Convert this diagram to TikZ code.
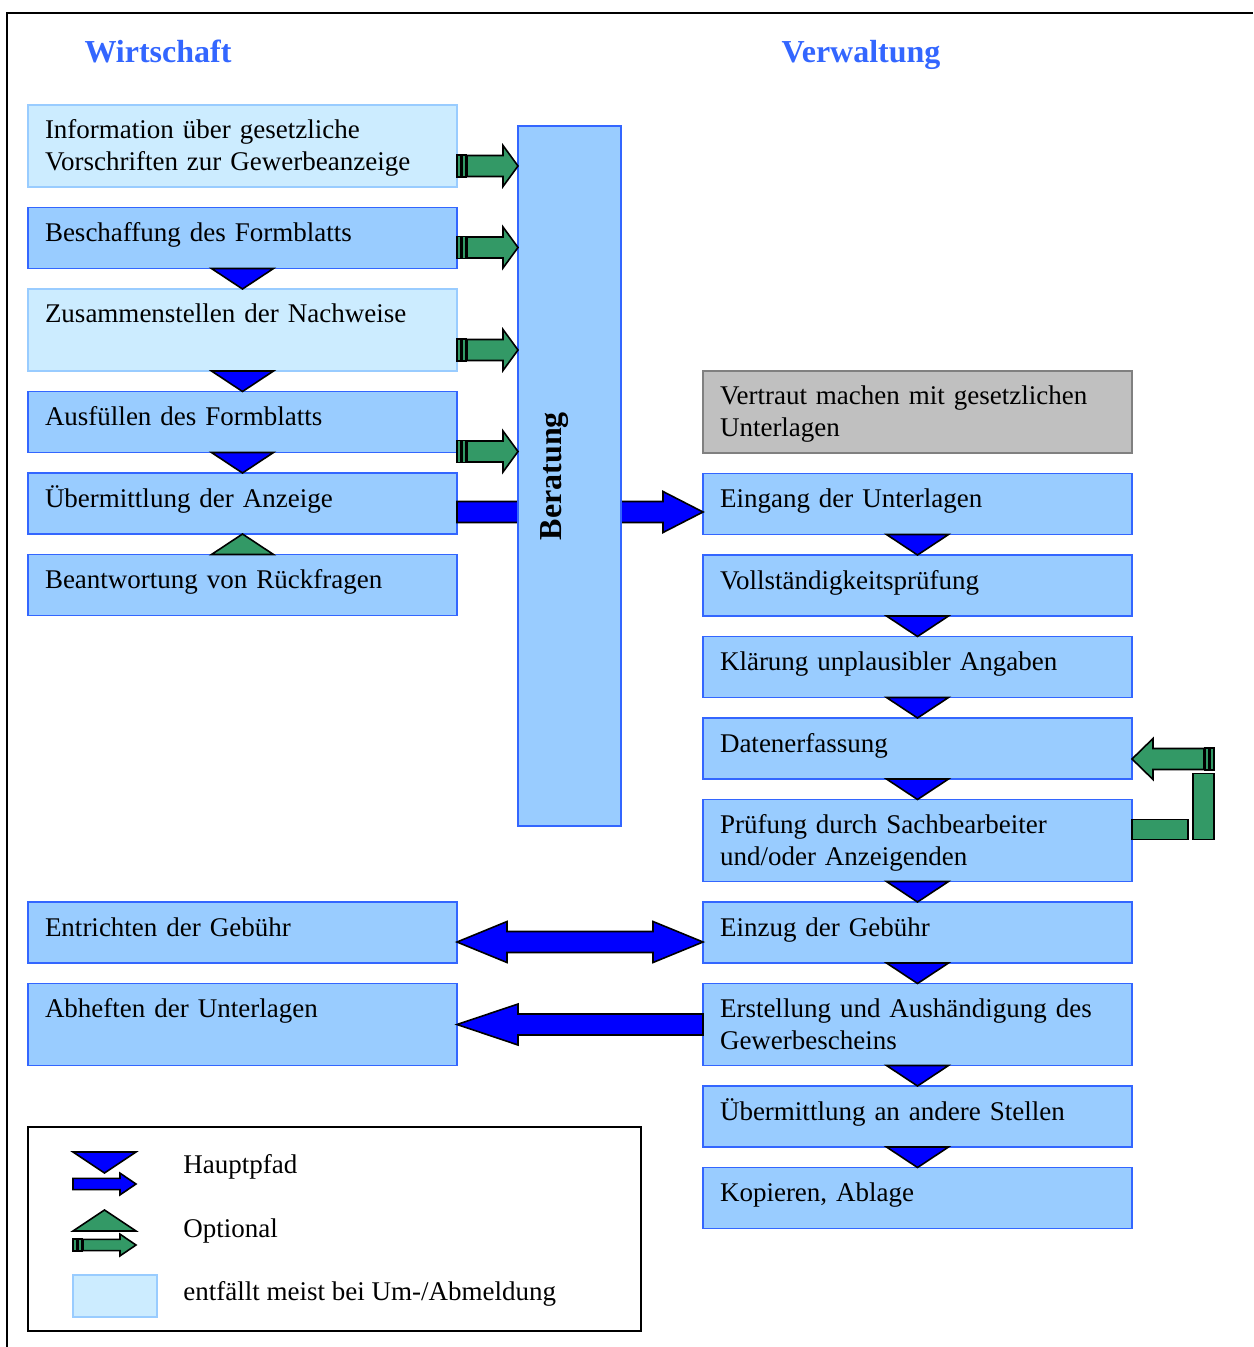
\documentclass[tikz,border=0pt]{standalone}
\usepackage{fontspec}
\setmainfont{Liberation Serif}
\usepackage{tikz}
\usetikzlibrary{positioning,calc}

\definecolor{boxfill}{HTML}{99CCFF}
\definecolor{boxline}{HTML}{3366FF}
\definecolor{palefill}{HTML}{CCECFF}
\definecolor{paleline}{HTML}{99CCFF}
\definecolor{greyfill}{HTML}{C0C0C0}
\definecolor{greyline}{HTML}{808080}
\definecolor{pathblue}{HTML}{0000FF}
\definecolor{optgreen}{HTML}{339966}
\definecolor{headblue}{HTML}{3366FF}

\newcommand{\bodyfont}{\fontsize{13.5}{16}\selectfont}

% green striped arrow: [scope opts]{start}{length}{head length}
\newcommand{\optarrow}[4][]{%
  \begin{scope}[shift={#2},#1]
    \draw[optshape] (0,-11) rectangle (4,11);
    \draw[optshape] (5,-11) rectangle (9,11);
    \draw[optshape] (10,-10.5) -- (#3-#4,-10.5) -- (#3-#4,-20.5) -- (#3,0)
      -- (#3-#4,20.5) -- (#3-#4,10.5) -- (10,10.5) -- cycle;
  \end{scope}}

% blue block arrow: [scope opts]{start}{length}{head length}
\newcommand{\mainarrow}[4][]{%
  \begin{scope}[shift={#2},#1]
    \draw[mainshape] (0,-10.5) -- (#3-#4,-10.5) -- (#3-#4,-20.5) -- (#3,0)
      -- (#3-#4,20.5) -- (#3-#4,10.5) -- (0,10.5) -- cycle;
  \end{scope}}

% down triangle between two stacked boxes
\newcommand{\steptri}[2]{%
  \draw[mainshape] ($(#1.south)+(-31,0)$) -- ($(#1.south)+(31,0)$) -- (#2.north) -- cycle;}

\begin{document}
\begin{tikzpicture}[x=0.5pt,y=-0.5pt,
  font=\bodyfont,
  box/.style     ={draw=boxline,fill=boxfill,line width=0.75pt,align=left,
                   text width=197.5pt,inner xsep=8.5pt,inner ysep=0pt,outer sep=0pt,
                   text height=17pt,text depth=13.5pt},
  pale/.style    ={box,draw=paleline,fill=palefill},
  greybox/.style ={box,draw=greyline,fill=greyfill},
  tall/.style    ={text depth=24pt},
  mainshape/.style={draw=black,fill=pathblue,line width=0.8pt},
  optshape/.style ={draw=black,fill=optgreen,line width=0.8pt},
  headtxt/.style ={font=\fontsize{16}{19}\selectfont\bfseries,text=headblue},
  legtxt/.style  ={anchor=base west,inner sep=0pt}]

\useasboundingbox (0,0) rectangle (1253,1347);
\draw[line width=1.2pt] (7,1347) -- (7,13) -- (1253,13);

%---------------- headings ----------------
\node[headtxt,anchor=base] (hwirt) at (158,63) {Wirtschaft};
\node[headtxt,anchor=base] (hverw) at (861,63) {Verwaltung};

%---------------- Wirtschaft column ----------------
\node[pale,tall,anchor=north west] (b1) at (28,105) {Information über gesetzliche\\Vorschriften zur Gewerbeanzeige};
\node[box,below=10.25pt of b1] (b2) {Beschaffung des Formblatts};
\node[pale,tall,below=10.25pt of b2] (b3) {Zusammenstellen der Nachweise};
\node[box,below=10.25pt of b3] (b4) {Ausfüllen des Formblatts};
\node[box,below=10.25pt of b4] (b5) {Übermittlung der Anzeige};
\node[box,below=10.25pt of b5] (b6) {Beantwortung von Rückfragen};
\node[box,anchor=north west] (b7) at (28,902) {Entrichten der Gebühr};
\node[box,tall,below=10.25pt of b7] (b8) {Abheften der Unterlagen};

\steptri{b2}{b3} \steptri{b3}{b4} \steptri{b4}{b5}
\draw[optshape] ($(b6.north)+(-31,0)$) -- ($(b6.north)+(31,0)$) -- (b5.south) -- cycle;

%---------------- Verwaltung column ----------------
\node[greybox,tall,anchor=north west] (r0) at (703,371) {Vertraut machen mit gesetzlichen\\Unterlagen};
\node[box,below=10.25pt of r0] (r1) {Eingang der Unterlagen};
\node[box,below=10.25pt of r1] (r2) {Vollständigkeitsprüfung};
\node[box,below=10.25pt of r2] (r3) {Klärung unplausibler Angaben};
\node[box,below=10.25pt of r3] (r4) {Datenerfassung};
\node[box,tall,below=10.25pt of r4] (r5) {Prüfung durch Sachbearbeiter\\und/oder Anzeigenden};
\node[box,below=10.25pt of r5] (r6) {Einzug der Gebühr};
\node[box,tall,below=10.25pt of r6] (r7) {Erstellung und Aushändigung des\\Gewerbescheins};
\node[box,below=10.25pt of r7] (r8) {Übermittlung an andere Stellen};
\node[box,below=10.25pt of r8] (r9) {Kopieren, Ablage};

\foreach \a/\b in {r1/r2,r2/r3,r3/r4,r4/r5,r5/r6,r6/r7,r7/r8,r8/r9}
  {\steptri{\a}{\b}}

%---------------- Beratung ----------------
\mainarrow{($(b5.east)+(0,8.5)$)}{246}{40}
\node[draw=boxline,fill=boxfill,line width=0.75pt,minimum width=51.5pt,
  minimum height=350pt,inner sep=0pt,outer sep=0pt,anchor=north west] (ber) at (518,126) {};
\node[rotate=90,font=\fontsize{16}{19}\selectfont\bfseries] (bertxt)
  at ($(ber.center)+(-15,0)$) {Beratung};

\optarrow{($(b1.south east)+(0,-21)$)}{61}{15}
\optarrow{($(b2.south east)+(0,-21)$)}{61}{15}
\optarrow{($(b3.south east)+(0,-21)$)}{61}{15}
\optarrow{($(b4.south east)+(0,-1)$)}{61}{15}

%---------------- fee and filing ----------------
\coordinate (dl) at ($(b7.east)+(0,9.5)$);
\coordinate (dr) at (dl -| r6.west);
\draw[mainshape] (dl) -- ($(dl)+(50,-20.5)$) -- ($(dl)+(50,-10.5)$)
  -- ($(dr)+(-50,-10.5)$) -- ($(dr)+(-50,-20.5)$) -- (dr)
  -- ($(dr)+(-50,20.5)$) -- ($(dr)+(-50,10.5)$)
  -- ($(dl)+(50,10.5)$) -- ($(dl)+(50,20.5)$) -- cycle;
\mainarrow[xscale=-1]{(r7.west)}{246}{61}

%---------------- loop back to Datenerfassung ----------------
\draw[optshape] ($(r5.east)+(0,-21)$) rectangle ++(56,20);
\draw[optshape] ($(r5.east)+(61,-67)$) rectangle ++(21,66);
\optarrow[xscale=-1]{($(r4.east)+(82,10.5)$)}{82}{21}

%---------------- legend ----------------
\node[draw=black,line width=1pt,anchor=north west,minimum width=306.5pt,
  minimum height=102pt,inner sep=0pt,outer sep=0pt] (legend) at (28,1127) {};
\draw[mainshape] (73,1152) -- (136,1152) -- (104.5,1173) -- cycle;
\mainarrow[yscale=0.53]{(73,1184)}{63}{16}
\draw[optshape] (73,1231) -- (136,1231) -- (104.5,1210) -- cycle;
\optarrow[yscale=0.53]{(73,1245)}{63}{16}
\draw[draw=paleline,fill=palefill,line width=0.75pt] (73,1275) rectangle (157,1317);
\node[legtxt] (lhaupt) at (183,1173) {Hauptpfad};
\node[legtxt] (lopt) at (183,1237) {Optional};
\node[legtxt] (lpale) at (183,1300) {entfällt meist bei Um-/Abmeldung};

\end{tikzpicture}
\end{document}
